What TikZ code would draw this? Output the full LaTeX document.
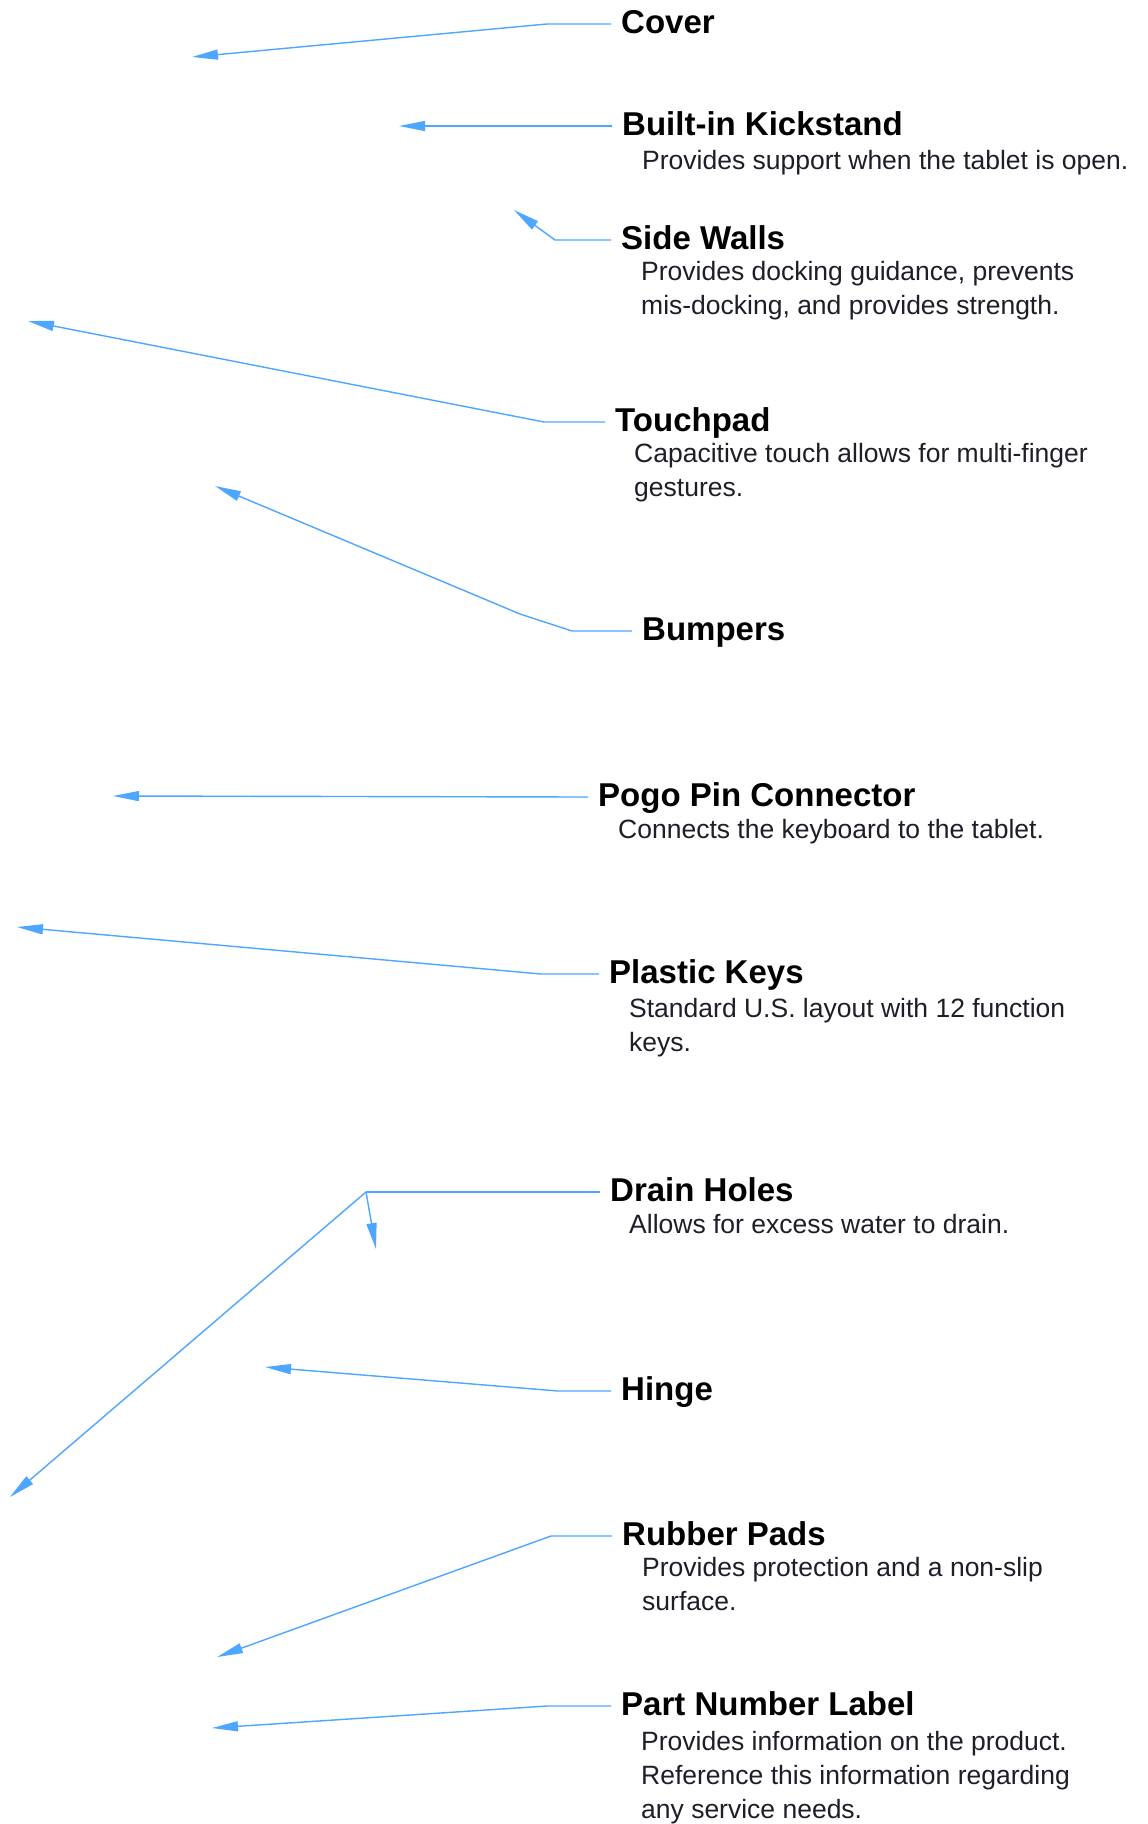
\documentclass[tikz,border=0pt]{standalone}
\usepackage{fontspec}
\setmainfont{Liberation Sans}
\usetikzlibrary{arrows.meta}
\definecolor{leadblue}{RGB}{77,166,255}
\definecolor{descgray}{RGB}{30,30,40}
\begin{document}
\begin{tikzpicture}[x=1pt,y=-1pt,
  title/.style={anchor=base west, inner xsep=10pt, inner ysep=0pt, text height=22pt, text depth=4pt,
    font=\fontsize{33}{39}\selectfont\bfseries, text=black},
  desc/.style={anchor=north west, inner sep=0pt, align=left,
    font=\fontsize{26.5}{34}\selectfont, text=descgray},
  leadline/.style={draw=leadblue, line width=1.4pt},
  leader/.style={leadline, -{Triangle[length=26pt,width=10pt]}}]
\useasboundingbox[fill=white] (0,0) rectangle (1148,1824);

% 1 Cover
\node[title] (t1) at (611,33) {Cover};
\coordinate (b1) at (547,24);
\coordinate (tip1) at (192,57);
\draw[leader] (t1.west) -- (b1) -- (tip1);

% 2 Kickstand
\node[title] (t2) at (612,135) {Built-in Kickstand};
\node[desc] (d2) at (642,150) {Provides support when the tablet is open.};
\coordinate (tip2) at (399,126);
\draw[leader] (t2.west) -- (tip2);

% 3 Side Walls
\node[title] (t3) at (611,249) {Side Walls};
\node[desc] (d3) at (641,261) {Provides docking guidance, prevents\\mis-docking, and provides strength.};
\coordinate (b3) at (555,240);
\coordinate (tip3) at (514,210);
\draw[leader] (t3.west) -- (b3) -- (tip3);

% 4 Touchpad
\node[title] (t4) at (605,431) {Touchpad};
\node[desc] (d4) at (634,443) {Capacitive touch allows for multi-finger\\gestures.};
\coordinate (b4) at (544,422);
\coordinate (tip4) at (28,321);
\draw[leader] (t4.west) -- (b4) -- (tip4);

% 5 Bumpers
\node[title] (t5) at (632,640) {Bumpers};
\coordinate (b5a) at (572,631);
\coordinate (b5b) at (520,614);
\coordinate (tip5) at (215,486);
\draw[leader] (t5.west) -- (b5a) -- (b5b) -- (tip5);

% 6 Pogo Pin Connector
\node[title] (t6) at (588,806) {Pogo Pin Connector};
\node[desc] (d6) at (618,819) {Connects the keyboard to the tablet.};
\coordinate (tip6) at (113,796);
\draw[leader] (t6.west) -- (tip6);

% 7 Plastic Keys
\node[title] (t7) at (599,983) {Plastic Keys};
\node[desc] (d7) at (629,998) {Standard U.S. layout with 12 function\\keys.};
\coordinate (b7) at (541,974);
\coordinate (tip7) at (17,927);
\draw[leader] (t7.west) -- (b7) -- (tip7);

% 8 Drain Holes
\node[title] (t8) at (600,1201) {Drain Holes};
\node[desc] (d8) at (629,1214) {Allows for excess water to drain.};
\coordinate (j8) at (366,1192);
\coordinate (tip8a) at (376,1249);
\coordinate (tip8b) at (10,1497);
\draw[leadline] (t8.west) -- (j8);
\draw[leader] (j8) -- (tip8a);
\draw[leader] (j8) -- (tip8b);

% 9 Hinge
\node[title] (t9) at (611,1400) {Hinge};
\coordinate (b9) at (558,1391);
\coordinate (tip9) at (265,1367);
\draw[leader] (t9.west) -- (b9) -- (tip9);

% 10 Rubber Pads
\node[title] (t10) at (612,1545) {Rubber Pads};
\node[desc] (d10) at (642,1557) {Provides protection and a non-slip\\surface.};
\coordinate (b10) at (551,1536);
\coordinate (tip10) at (217,1657);
\draw[leader] (t10.west) -- (b10) -- (tip10);

% 11 Part Number Label
\node[title] (t11) at (611,1715) {Part Number Label};
\node[desc] (d11) at (641,1731) {Provides information on the product.\\Reference this information regarding\\any service needs.};
\coordinate (b11) at (547,1706);
\coordinate (tip11) at (212,1728);
\draw[leader] (t11.west) -- (b11) -- (tip11);
\end{tikzpicture}
\end{document}
